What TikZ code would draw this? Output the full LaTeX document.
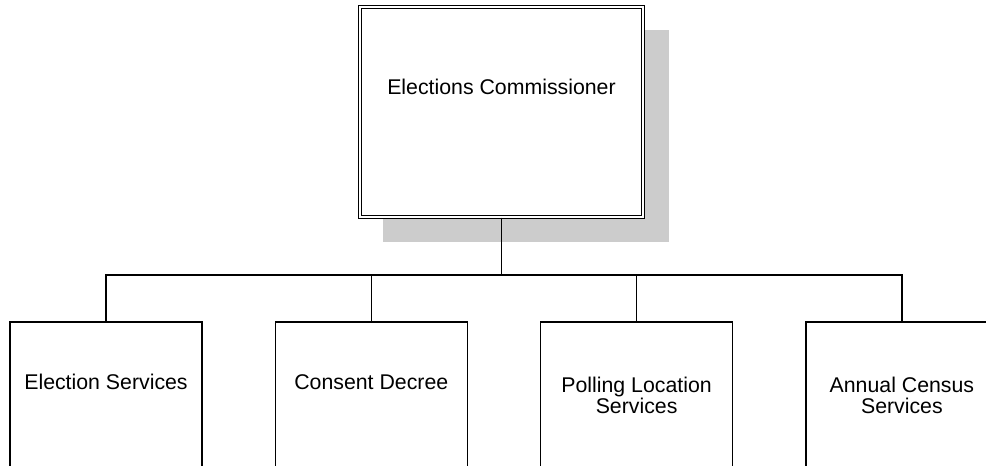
\documentclass[tikz,border=0pt]{standalone}
\usepackage{fontspec}
\setmainfont{Liberation Sans}
\usetikzlibrary{positioning,shadows}

\begin{document}
\begin{tikzpicture}[
    x=1pt, y=-1pt,
    font=\fontsize{21.3}{21}\selectfont,
    node distance=72pt,
    line/.style={draw, line width=1.3pt},
    headbox/.style={rectangle, draw, line width=1pt, double, double distance=2.8pt, fill=white,
        minimum width=283pt, minimum height=210pt, text height=15pt, text depth=51pt,
        general shadow={fill=black!20, shadow xshift=24pt, shadow yshift=-24pt, shadow scale=1.01}},
    unit/.style={rectangle, draw, line width=1.3pt, fill=white, align=center,
        minimum width=192pt, minimum height=146pt},
    oneline/.style={text height=15pt, text depth=27pt},
    twoline/.style={text height=38pt, text depth=2pt}
]
\clip (0,0) rectangle (986,466);

\node [headbox] (comm) at (501.5,112) {Elections Commissioner};

\node [unit, oneline] (elect) at (106,395) {Election Services};
\node [unit, oneline, right=of elect] (consent) {Consent Decree};
\node [unit, twoline, right=of consent] (polling) {Polling Location\\Services};
\node [unit, twoline, right=of polling] (census) {Annual Census\\Services};

\coordinate (bus) at (501.5,275);
\path [line] (comm.south) -- (bus);
\path [line] (bus) -| (elect.north);
\path [line] (bus) -| (consent.north);
\path [line] (bus) -| (polling.north);
\path [line] (bus) -| (census.north);

\end{tikzpicture}
\end{document}
